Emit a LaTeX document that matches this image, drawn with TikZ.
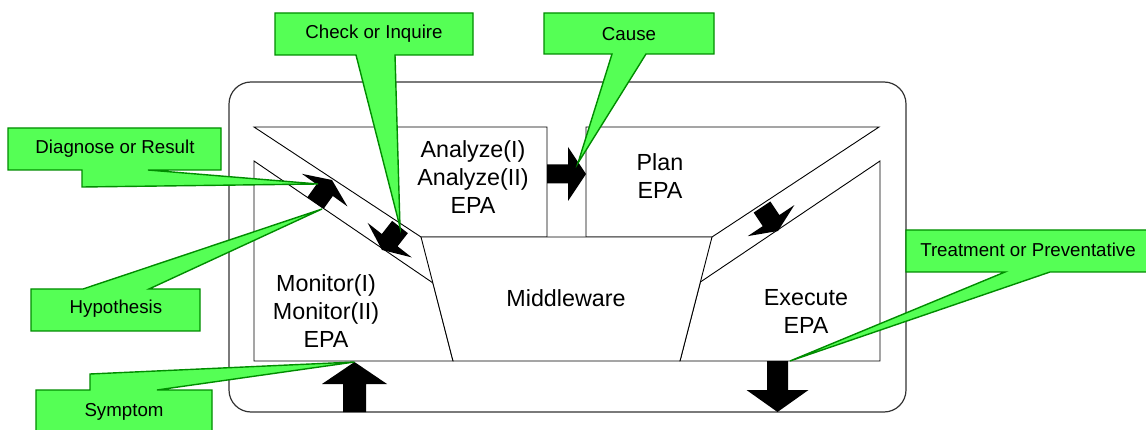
\documentclass[tikz,border=0pt]{standalone}
\usepackage{fontspec}
\setmainfont{Liberation Sans}
\usetikzlibrary{calc}
\definecolor{calloutfill}{RGB}{85,255,85}
\definecolor{calloutline}{RGB}{0,140,0}

\tikzset{
  panel/.style={draw=black, line width=0.9pt, fill=white, line join=miter},
  frame/.style={draw=black!80, line width=1.2pt, fill=white, rounded corners=22pt},
  arrowfill/.style={fill=black},
  callout/.style={draw=calloutline, line width=1.4pt, fill=calloutfill, line join=miter},
  boxlabel/.style={font=\fontsize{23.3}{28}\selectfont, align=center, inner sep=0pt},
  calloutlabel/.style={font=\fontsize{18.7}{22}\selectfont, inner sep=0pt},
}

% block arrow: name, tail, tip, shaft half width, head half width, head length (all in pt)
\newcommand{\blockarrow}[6]{%
  \coordinate (#1-h) at ($(#3)!#6pt!(#2)$);
  \fill[arrowfill] ($(#2)!#4pt!90:(#3)$) -- ($(#1-h)!#4pt!90:(#3)$) -- ($(#1-h)!#5pt!90:(#3)$)
    -- (#3) -- ($(#1-h)!#5pt!-90:(#3)$) -- ($(#1-h)!#4pt!-90:(#3)$) -- ($(#2)!#4pt!-90:(#3)$) -- cycle;
}

\begin{document}
\begin{tikzpicture}[x=1pt,y=-1pt]
\useasboundingbox (0,0) rectangle (1146,430);
\clip (0,0) rectangle (1146,430);
\fill[white] (0,0) rectangle (1146,430);

% outer frame
\draw[frame] (229,82) rectangle (906,412);

% middleware corners
\coordinate (mw-tl) at (421,237);
\coordinate (mw-tr) at (712,237);
\coordinate (mw-br) at (680,361);
\coordinate (mw-bl) at (453,361);

% the four stage panels around the middleware
\draw[panel] (254,127) -- (547,127) -- (547,237) -- (mw-tl) -- cycle;
\draw[panel] (254,161) -- (433,283) -- (mw-bl) -- (254,361) -- cycle;
\draw[panel] (586,127) -- (879,127) -- (mw-tr) -- (586,237) -- cycle;
\draw[panel] (880,161) -- (880,361) -- (mw-br) -- (700.4,282) -- cycle;
\draw[panel] (mw-tl) -- (mw-tr) -- (mw-br) -- (mw-bl) -- cycle;

% labels of the stages
\node[boxlabel] (analyze) at (473,177) {Analyze(I)\\Analyze(II)\\EPA};
\node[boxlabel] (plan) at (660,176) {Plan\\EPA};
\node[boxlabel] (middleware) at (566,298) {Middleware};
\node[boxlabel] (execute) at (806,311) {Execute\\EPA};
\node[boxlabel] (monitor) at (326,311) {Monitor(I)\\Monitor(II)\\EPA};

% flow arrows
\coordinate (in-tail) at (354.5,412);
\coordinate (in-tip) at (354.5,362);
\blockarrow{in}{in-tail}{in-tip}{11.5}{32.5}{22}
\coordinate (out-tail) at (777.5,361);
\coordinate (out-tip) at (777.5,412);
\blockarrow{out}{out-tail}{out-tip}{10.5}{31}{22}
\coordinate (ap-tail) at (547,174);
\coordinate (ap-tip) at (586,174);
\blockarrow{ap}{ap-tail}{ap-tip}{9.5}{27}{18}
\coordinate (ma-tail) at (315.5,203);
\coordinate (ma-tip) at (332,180);
\blockarrow{ma}{ma-tail}{ma-tip}{10}{28}{12.5}
\coordinate (am-tail) at (400,227);
\coordinate (am-tip) at (382,250);
\blockarrow{am}{am-tail}{am-tip}{10}{28}{12.5}
\coordinate (pe-tail) at (762,207);
\coordinate (pe-tip) at (778,231);
\blockarrow{pe}{pe-tail}{pe-tip}{10}{28}{12.5}

% callouts
\draw[callout] (275,13) -- (473,13) -- (473,55) -- (395,55) -- (am-tail) -- (356,55) -- (275,55) -- cycle;
\node[calloutlabel] (check) at (374,34) {Check or Inquire};

\draw[callout] (544,13) -- (714,13) -- (714,54) -- (646,54) -- (578,163) -- (612,54) -- (544,54) -- cycle;
\node[calloutlabel] (cause) at (629,34) {Cause};

\draw[callout] (8,128) -- (221,128) -- (221,170) -- (148,170) -- (318,184) -- (82,187) -- (82,170) -- (8,170) -- cycle;
\node[calloutlabel] (diagnose) at (115,149) {Diagnose or Result};

\draw[callout] (31,289) -- (83,289) -- (322,209) -- (149,289) -- (200,289) -- (200,331) -- (31,331) -- cycle;
\node[calloutlabel] (hypothesis) at (116,309) {Hypothesis};

\draw[callout] (36,390) -- (90,390) -- (90,374) -- (in-tip) -- (157,390) -- (212,390) -- (212,434) -- (36,434) -- cycle;
\node[calloutlabel] (symptom) at (124,412) {Symptom};

\draw[callout] (906,230) -- (1150,230) -- (1150,272) -- (1050,272) -- (790,361) -- (1005,272) -- (906,272) -- cycle;
\node[calloutlabel] (treatment) at (1028,250) {Treatment or Preventative};
\end{tikzpicture}
\end{document}
